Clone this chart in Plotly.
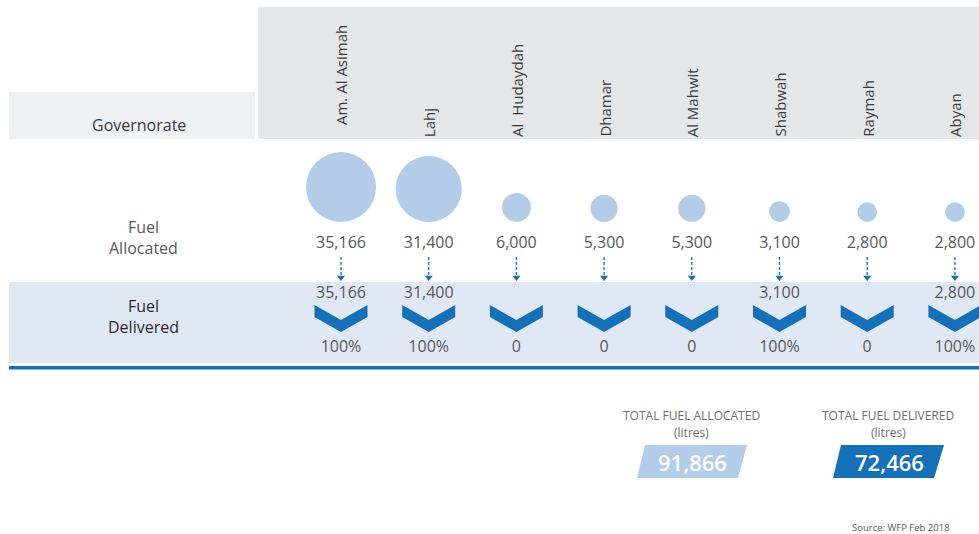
import math
import plotly.graph_objects as go

# ---------------- data ----------------
governorates = ["Am. Al Asimah", "Lahj", "Al  Hudaydah", "Dhamar", "Al Mahwit",
                "Shabwah", "Raymah", "Abyan"]
fuel_allocated = [35166, 31400, 6000, 5300, 5300, 3100, 2800, 2800]
fuel_delivered = [35166, 31400, 0, 0, 0, 3100, 0, 2800]
row_header = "Governorate"
row_allocated = "Fuel<br>Allocated"
row_delivered = "Fuel<br>Delivered"
total_alloc_label = "TOTAL FUEL ALLOCATED"
total_deliv_label = "TOTAL FUEL DELIVERED"
unit_label = "(litres)"
source_label = "Source: WFP Feb 2018"

# ---------------- layout constants (pixels) ----------------
W, H = 979, 534
X0, DX = 341, 87.7
xs = [X0 + i * DX for i in range(len(governorates))]
FONT = "Open Sans"
GREY = "#58595b"
DARK = "#3a3a3c"
LIGHT_BLUE = "#b3cde8"
BLUE = "#1470b9"
BAND = "#e1e8f5"

K = 70 / math.sqrt(max(fuel_allocated))   # px diameter per sqrt(litre)
diam = [K * math.sqrt(v) for v in fuel_allocated]
BASE = 222

fig = go.Figure()

# bubbles (area proportional to allocated fuel)
fig.add_trace(go.Scatter(
    x=xs, y=[BASE - d / 2 for d in diam], mode="markers",
    marker=dict(size=diam, sizemode="diameter", color=LIGHT_BLUE, opacity=1,
                line=dict(width=0)),
    hoverinfo="skip"))

# allocated values
fig.add_trace(go.Scatter(
    x=xs, y=[244] * len(xs), mode="text",
    text=[f"{v:,}" for v in fuel_allocated],
    textfont=dict(family=FONT, size=16, color=GREY), hoverinfo="skip"))

# dashed arrows
ax, ay = [], []
for x in xs:
    ax += [x, x, None]
    ay += [257, 276, None]
fig.add_trace(go.Scatter(x=ax, y=ay, mode="lines",
                         line=dict(color=BLUE, width=1.3, dash="3px,2px"),
                         hoverinfo="skip"))
fig.add_trace(go.Scatter(x=xs, y=[277.5] * len(xs), mode="markers",
                         marker=dict(symbol="triangle-down", size=7, color=BLUE,
                                     opacity=1),
                         hoverinfo="skip"))

# delivered values (only where something was delivered)
dx_, dv_ = [], []
for x, d in zip(xs, fuel_delivered):
    if d > 0:
        dx_.append(x)
        dv_.append(f"{d:,}")
fig.add_trace(go.Scatter(x=dx_, y=[294] * len(dx_), mode="text", text=dv_,
                         textfont=dict(family=FONT, size=16, color=GREY),
                         hoverinfo="skip"))

# percentage delivered
pct = []
for a, d in zip(fuel_allocated, fuel_delivered):
    p = round(100 * d / a)
    pct.append(f"{p}%" if p > 0 else "0")
fig.add_trace(go.Scatter(x=xs, y=[348] * len(xs), mode="text", text=pct,
                         textfont=dict(family=FONT, size=16, color=GREY),
                         hoverinfo="skip"))

shapes = [
    dict(type="rect", x0=258, x1=W, y0=7, y1=139, fillcolor="#e6e7e9",
         line=dict(width=0), layer="below"),
    dict(type="rect", x0=9, x1=255, y0=92, y1=139, fillcolor="#f0f1f3",
         line=dict(width=0), layer="below"),
    dict(type="rect", x0=9, x1=W, y0=282, y1=363, fillcolor=BAND,
         line=dict(width=0), layer="below"),
    dict(type="rect", x0=9, x1=W, y0=366, y1=369.5, fillcolor=BLUE,
         line=dict(width=0), layer="below"),
]
# chevrons
hw = 26.5
for x in xs:
    path = (f"M{x-hw},305 L{x},320 L{x+hw},305 L{x+hw},317 "
            f"L{x},332 L{x-hw},317 Z")
    shapes.append(dict(type="path", path=path, fillcolor=BLUE, line=dict(width=0)))

# totals boxes (parallelograms)
shapes.append(dict(type="path", path="M645,445 L747,445 L738,478 L637,478 Z",
                   fillcolor=LIGHT_BLUE, line=dict(width=0)))
shapes.append(dict(type="path", path="M841,445 L944,445 L934,478 L833,478 Z",
                   fillcolor=BLUE, line=dict(width=0)))

ann = []
for i, (x, g) in enumerate(zip(xs, governorates)):
    ybot = 127 if i == 0 else 139
    ann.append(dict(x=x, y=ybot, text=g, textangle=-90, showarrow=False,
                    xanchor="center", yanchor="bottom",
                    font=dict(family=FONT, size=15, color=DARK)))
ann += [
    dict(x=139, y=125, text=row_header, showarrow=False,
         font=dict(family=FONT, size=16, color=DARK)),
    dict(x=143, y=237, text=row_allocated, showarrow=False,
         font=dict(family=FONT, size=16, color=GREY)),
    dict(x=143, y=316, text=row_delivered, showarrow=False,
         font=dict(family=FONT, size=16, color="#2b2b2b")),
    dict(x=691, y=415, text=total_alloc_label, showarrow=False,
         font=dict(family=FONT, size=12, color="#6d6e70")),
    dict(x=691, y=432, text=unit_label, showarrow=False,
         font=dict(family=FONT, size=12, color="#6d6e70")),
    dict(x=888, y=415, text=total_deliv_label, showarrow=False,
         font=dict(family=FONT, size=12, color="#6d6e70")),
    dict(x=888, y=432, text=unit_label, showarrow=False,
         font=dict(family=FONT, size=12, color="#6d6e70")),
    dict(x=692, y=462, text=f"{sum(fuel_allocated):,}", showarrow=False,
         font=dict(family=FONT, size=22, color="white", weight=600)),
    dict(x=889, y=462, text=f"{sum(fuel_delivered):,}", showarrow=False,
         font=dict(family=FONT, size=22, color="white", weight=600)),
    dict(x=952, y=527, text=source_label, showarrow=False, xanchor="right",
         font=dict(family=FONT, size=9.5, color=GREY)),
]

fig.update_layout(
    width=W, height=H, autosize=False,
    margin=dict(l=0, r=0, t=0, b=0),
    paper_bgcolor="white", plot_bgcolor="white",
    showlegend=False,
    xaxis=dict(range=[0, W], visible=False, fixedrange=True),
    yaxis=dict(range=[H, 0], visible=False, fixedrange=True),
    shapes=shapes, annotations=ann,
)

fig.write_html(
    "out.html",
    config={"displayModeBar": False},
    post_script="document.body.style.margin='0';document.body.style.overflow='hidden';",
)
